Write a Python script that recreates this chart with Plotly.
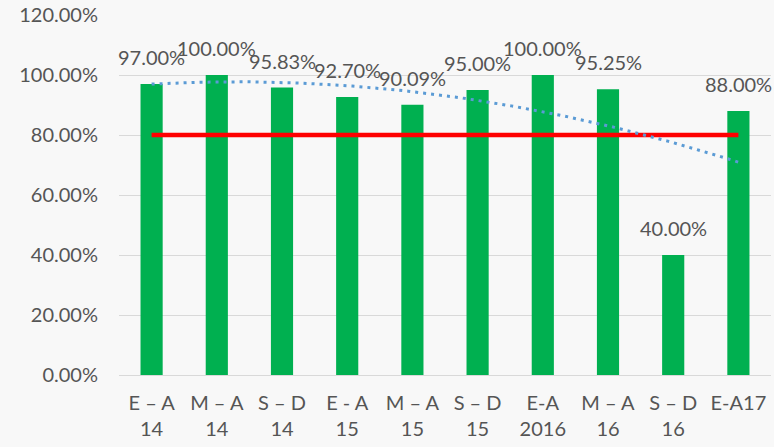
import numpy as np
import plotly.graph_objects as go

categories = ["E – A<br>14", "M – A<br>14", "S – D<br>14", "E - A<br>15", "M – A<br>15",
              "S – D<br>15", "E-A<br>2016", "M – A<br>16", "S – D<br>16", "E-A17<br> "]
values = [97.00, 100.00, 95.83, 92.70, 90.09, 95.00, 100.00, 95.25, 40.00, 88.00]
labels = ["97.00%", "100.00%", "95.83%", "92.70%", "90.09%", "95.00%", "100.00%", "95.25%", "40.00%", "88.00%"]
target = [80] * len(categories)
y_ticks = [0, 20, 40, 60, 80, 100, 120]
y_tick_text = ["0.00%", "20.00%", "40.00%", "60.00%", "80.00%", "100.00%", "120.00%"]

FONT = "Lato"
GRAY = "#555555"
FS = 20

idx = np.arange(len(categories))
# Polynomial (order 2) trendline fitted to the bar values, as in the original
coef = np.polyfit(idx, values, 2)
xs = np.linspace(0, len(categories) - 1, 200)
ys = np.polyval(coef, xs)

fig = go.Figure()
fig.add_trace(go.Bar(x=idx, y=values, marker=dict(color="#00B050", line=dict(width=0)),
                     width=0.34, showlegend=False, hoverinfo="skip"))
fig.add_trace(go.Scatter(x=idx, y=target, mode="lines",
                         line=dict(color="#FF0000", width=4.5), showlegend=False))
fig.add_trace(go.Scatter(x=xs, y=ys, mode="lines",
                         line=dict(color="#5B9BD5", width=3, dash="3px,5px"), showlegend=False))

for i, (v, t) in enumerate(zip(values, labels)):
    fig.add_annotation(x=i, y=v, text=t, showarrow=False, yanchor="bottom", yshift=13,
                       font=dict(family=FONT, size=FS, color=GRAY))

fig.update_layout(
    width=774, height=447,
    margin=dict(l=119, r=3, t=15, b=72),
    paper_bgcolor="#f8f8f8", plot_bgcolor="rgba(0,0,0,0)",
    font=dict(family=FONT, size=FS, color=GRAY),
    bargap=0.66,
)
fig.update_xaxes(range=[-0.5, len(categories) - 0.5], tickmode="array", tickvals=idx,
                 ticktext=categories, showgrid=False, showline=False, ticks="",
                 tickfont=dict(family=FONT, size=FS, color=GRAY), ticklabelstandoff=14)
fig.update_yaxes(range=[0, 120], tickmode="array", tickvals=y_ticks, ticktext=y_tick_text,
                 showgrid=True, gridcolor="#d9d9d9", gridwidth=1.2, zeroline=True,
                 zerolinecolor="#d9d9d9", zerolinewidth=1.2, showline=False, ticks="",
                 tickfont=dict(family=FONT, size=FS, color=GRAY), ticklabelstandoff=20)

fig.write_html("out.html", config={"displayModeBar": False})

# remove the default page margin so the figure fills the window exactly
with open("out.html", encoding="utf-8") as f:
    html = f.read()
html = html.replace("<body>", "<body style=\"margin:0;overflow:hidden\">", 1)
with open("out.html", "w", encoding="utf-8") as f:
    f.write(html)
